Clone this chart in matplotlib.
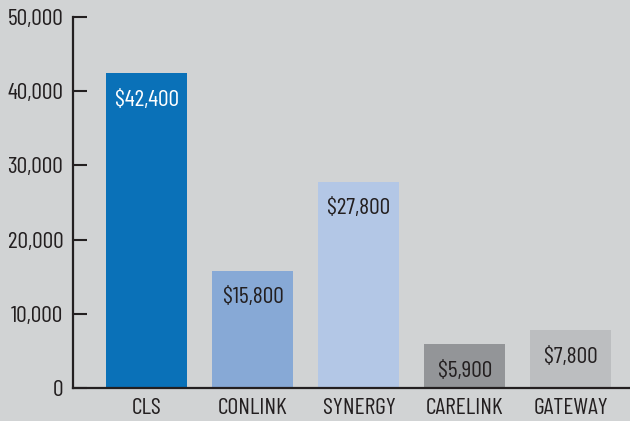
import matplotlib.pyplot as plt

# program names and cost per client
programs = ["CLS", "CONLINK", "SYNERGY", "CARELINK", "GATEWAY"]
costs = [42400, 15800, 27800, 5900, 7800]
labels = ["$42,400", "$15,800", "$27,800", "$5,900", "$7,800"]
colors = ["#0a71b8", "#87a9d6", "#b3c7e6", "#939598", "#bcbec0"]
text_colors = ["white", "#231f20", "#231f20", "#231f20", "#231f20"]

bg = "#d1d3d4"
ink = "#231f20"

plt.rcParams["font.family"] = ["Barlow Condensed", "DejaVu Sans"]

fig = plt.figure(figsize=(6.3, 4.21), dpi=100, facecolor=bg)
ax = fig.add_axes([73 / 630, 33 / 421, 557 / 630, 371 / 421], facecolor=bg)

x = range(len(programs))
ax.bar(x, costs, width=0.764, color=colors)

for i, (v, lab) in enumerate(zip(costs, labels)):
    ax.annotate(lab, (i, v), xytext=(0, -27), textcoords="offset pixels",
                ha="center", va="center", fontsize=17, color=text_colors[i])

ax.set_xlim(-0.698, 4.557)
ax.set_ylim(0, 50000)
ax.set_yticks([0, 10000, 20000, 30000, 40000, 50000])
ax.set_yticklabels(["0", "10,000", "20,000", "30,000", "40,000", "50,000"])
ax.set_xticks(list(x))
ax.set_xticklabels(programs)

ax.tick_params(axis="y", direction="in", length=10, width=1.5, color=ink,
               labelsize=17, labelcolor=ink, pad=7)
ax.tick_params(axis="x", length=0, labelsize=17, labelcolor=ink, pad=7)

for s in ["top", "right"]:
    ax.spines[s].set_visible(False)
for s in ["left", "bottom"]:
    ax.spines[s].set_linewidth(1.6)
    ax.spines[s].set_color(ink)

fig.savefig("out.png", dpi=100, facecolor=bg)
